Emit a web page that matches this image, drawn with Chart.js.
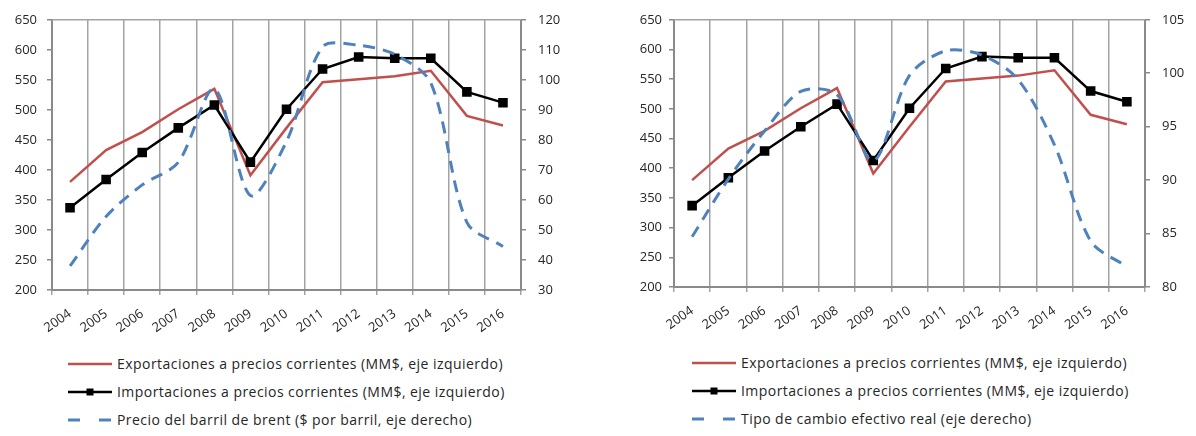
<!DOCTYPE html>
<html>
<head>
<meta charset="utf-8">
<script src="https://cdn.jsdelivr.net/npm/chart.js@4/dist/chart.umd.min.js"></script>
<style>
  body { margin: 0; background: #fff; width: 1196px; height: 436px; overflow: hidden; font-family: "Open Sans", sans-serif; }
  .box { position: absolute; top: 0; height: 340px; }
  #box1 { left: 0; width: 600px; }
  #box2 { left: 600px; width: 596px; }
  .legend { position: absolute; font-size: 14px; letter-spacing: 0.45px; color: #262626; }
  .legend .item { position: absolute; left: 0; height: 20px; line-height: 20px; white-space: nowrap; display: flex; align-items: center; }
  .legend svg { margin-right: 5px; }
</style>
</head>
<body>
<div class="box" id="box1"><canvas id="c1"></canvas></div>
<div class="box" id="box2"><canvas id="c2"></canvas></div>
<div class="legend" id="leg1" style="left:68px; top:354px;"></div>
<div class="legend" id="leg2" style="left:692px; top:353px;"></div>
<script>
// data
const years = ['2004', '2005', '2006', '2007', '2008', '2009', '2010', '2011', '2012', '2013', '2014', '2015', '2016'];
const exportaciones = [380, 433, 463, 501, 535, 391, 470, 546, 551, 556, 565, 490, 474];
const importaciones = [337, 384, 429, 470, 508, 413, 501, 568, 588, 586, 586, 530, 512];
const brent = [38, 54.5, 65, 72.5, 97, 61.5, 79.5, 111, 111.5, 108.5, 99, 52.5, 44.5];
const tcer = [84.7, 90.1, 94.6, 98.3, 98.0, 91.8, 99.8, 102.1, 101.7, 99.4, 93.3, 84.3, 81.9];

const labelExp = 'Exportaciones a precios corrientes (MM$, eje izquierdo)';
const labelImp = 'Importaciones a precios corrientes (MM$, eje izquierdo)';
const labelBrent = 'Precio del barril de brent ($ por barril, eje derecho)';
const labelTcer = 'Tipo de cambio efectivo real (eje derecho)';

const leftTicks = { min: 200, max: 650, step: 50 };
const brentTicks = { min: 30, max: 120, step: 10 };
const tcerTicks = { min: 80, max: 105, step: 5 };

const RED = '#C0504D', BLACK = '#000000', BLUE = '#4F81BD';
const AXIS = '#8a8a8a', GRID = '#a3a3a3', TEXT = '#262626';
const FONT = { family: '"Open Sans", sans-serif', size: 13 };

const frame = {
  id: 'frame',
  beforeDatasetsDraw(chart) {
    const a = chart.chartArea, ctx = chart.ctx;
    ctx.save();
    ctx.strokeStyle = GRID;
    ctx.lineWidth = 1.5;
    ctx.beginPath();
    ctx.moveTo(a.left, a.top);
    ctx.lineTo(a.right, a.top);
    ctx.stroke();
    ctx.restore();
  }
};

function makeChart(id, rightData, rightLabel, rt, geo) {
  new Chart(document.getElementById(id), {
    type: 'line',
    data: {
      labels: years,
      datasets: [
        { label: rightLabel, data: rightData, yAxisID: 'y1', borderColor: BLUE, borderWidth: 3,
          borderDash: [12, 8], pointRadius: 0, tension: 0.3, order: 0 },
        { label: labelImp, data: importaciones, yAxisID: 'y', borderColor: BLACK, backgroundColor: BLACK,
          borderWidth: 2.5, pointStyle: 'rect', pointRadius: 5, tension: 0, order: 1 },
        { label: labelExp, data: exportaciones, yAxisID: 'y', borderColor: RED, borderWidth: 2.5,
          pointRadius: 0, tension: 0, order: 2 }
      ]
    },
    options: {
      responsive: true,
      maintainAspectRatio: false,
      animation: false,
      events: [],
      layout: { padding: { top: geo.top, left: 0, right: 0, bottom: 0 } },
      plugins: { legend: { display: false }, tooltip: { enabled: false } },
      scales: {
        x: {
          offset: true,
          grid: { offset: true, color: GRID, lineWidth: 1.5, tickLength: 5, drawOnChartArea: true },
          border: { color: AXIS, width: 2 },
          ticks: { color: TEXT, font: FONT, autoSkip: false, minRotation: 35, maxRotation: 35, padding: 11 },
          afterFit: s => { s.height = geo.xh; }
        },
        y: {
          position: 'left', min: leftTicks.min, max: leftTicks.max,
          grid: { drawOnChartArea: false, tickLength: 5, color: AXIS, lineWidth: 1.5 },
          border: { color: AXIS, width: 2 },
          ticks: { stepSize: leftTicks.step, color: TEXT, font: FONT, padding: geo.lpad },
          afterFit: s => { s.width = geo.lw; }
        },
        y1: {
          position: 'right', min: rt.min, max: rt.max,
          grid: { drawOnChartArea: false, tickLength: 5, color: AXIS, lineWidth: 1.5 },
          border: { color: AXIS, width: 2 },
          ticks: { stepSize: rt.step, color: TEXT, font: FONT, padding: geo.rpad },
          afterFit: s => { s.width = geo.rw; }
        }
      }
    },
    plugins: [frame]
  });
}

makeChart('c1', brent, labelBrent, brentTicks, { top: 17, xh: 50, lw: 52, rw: 79, lpad: 10, rpad: 12 });
makeChart('c2', tcer, labelTcer, tcerTicks, { top: 14, xh: 53, lw: 74, rw: 51, lpad: 7, rpad: 12 });

function keySvg(kind) {
  if (kind === 'exp') return '<svg width="44" height="20"><line x1="0" y1="10" x2="44" y2="10" stroke="' + RED + '" stroke-width="2.5"/></svg>';
  if (kind === 'imp') return '<svg width="44" height="20"><line x1="0" y1="10" x2="44" y2="10" stroke="' + BLACK + '" stroke-width="2.5"/><rect x="18.5" y="6.5" width="7" height="7" fill="' + BLACK + '"/></svg>';
  return '<svg width="44" height="20"><line x1="0" y1="10" x2="44" y2="10" stroke="' + BLUE + '" stroke-width="3" stroke-dasharray="12 19"/></svg>';
}

function makeLegend(id, items) {
  const el = document.getElementById(id);
  items.forEach((it, i) => {
    const d = document.createElement('div');
    d.className = 'item';
    d.style.top = (i * 28) + 'px';
    d.innerHTML = keySvg(it[0]) + '<span></span>';
    d.querySelector('span').textContent = it[1];
    el.appendChild(d);
  });
}

makeLegend('leg1', [['exp', labelExp], ['imp', labelImp], ['dash', labelBrent]]);
makeLegend('leg2', [['exp', labelExp], ['imp', labelImp], ['dash', labelTcer]]);
</script>
</body>
</html>
